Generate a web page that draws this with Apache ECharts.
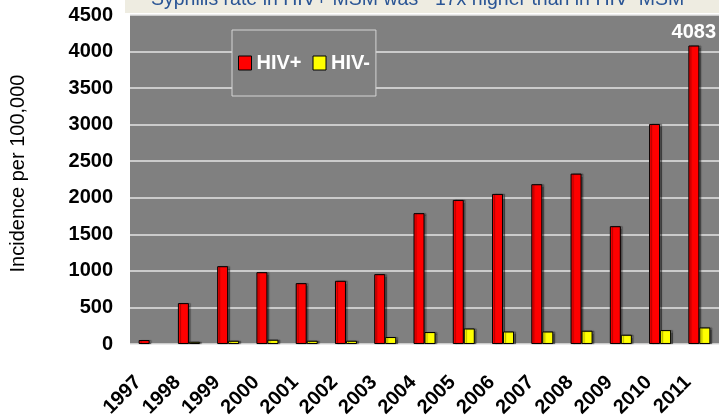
<!DOCTYPE html>
<html>
<head>
<meta charset="utf-8">
<script src="https://cdn.jsdelivr.net/npm/echarts@6/dist/echarts.min.js"></script>
<style>
  html, body { margin: 0; padding: 0; background: #fff; }
  #chart { width: 719px; height: 420px; }
</style>
</head>
<body>
<div id="chart"></div>
<script>
// values
const years = ['1997', '1998', '1999', '2000', '2001', '2002', '2003', '2004',
  '2005', '2006', '2007', '2008', '2009', '2010', '2011']
const hivPos = [55, 560, 1065, 983, 833, 865, 956, 1790, 1971, 2053, 2186, 2331, 1612, 3010, 4083]
const hivNeg = [null, 31, 45, 59, 45, 45, 96, 164, 213, 172, 172, 182, 127, 191, 227]
const yTicks = [0, 500, 1000, 1500, 2000, 2500, 3000, 3500, 4000, 4500]

const chart = echarts.init(document.getElementById('chart'))

const FONT = 'Liberation Sans, Arial, sans-serif'

const barStyle = {
  borderColor: '#000',
  borderWidth: 1,
  shadowColor: 'rgba(0, 0, 0, 0.35)',
  shadowBlur: 1,
  shadowOffsetX: 2,
  shadowOffsetY: 0
}

chart.setOption({
  animation: false,
  backgroundColor: '#fff',
  title: {
    text: 'Syphilis rate in HIV+ MSM was ~17x higher than in HIV- MSM',
    left: 146,
    top: -15,
    textStyle: {
      color: '#2A5595',
      fontFamily: FONT,
      fontSize: 19.5,
      fontWeight: 'normal'
    }
  },
  graphic: [
    {
      type: 'rect',
      z: -1,
      shape: { x: 125, y: 0, width: 594, height: 13 },
      style: { fill: '#EEECE1' }
    }
  ],
  legend: {
    left: 232,
    top: 30,
    padding: [23, 6, 23, 6],
    icon: 'rect',
    itemWidth: 13,
    itemHeight: 14,
    itemGap: 11,
    backgroundColor: '#808080',
    borderColor: '#D4D4D4',
    borderWidth: 1,
    textStyle: {
      color: '#fff',
      fontFamily: FONT,
      fontSize: 20,
      fontWeight: 'bold'
    },
    data: [
      { name: 'HIV+', itemStyle: { color: '#FF0000', borderColor: '#000', borderWidth: 1 } },
      { name: 'HIV-', itemStyle: { color: '#FFFF00', borderColor: '#000', borderWidth: 1 } }
    ]
  },
  grid: {
    left: 130,
    right: 0,
    top: 15,
    bottom: 75,
    show: true,
    backgroundColor: '#808080',
    borderWidth: 0
  },
  xAxis: {
    type: 'category',
    data: years,
    axisLine: { show: false },
    axisTick: { show: false },
    axisLabel: {
      interval: 0,
      rotate: 45,
      margin: 24,
      padding: [0, 16, 0, 0],
      color: '#000',
      fontFamily: FONT,
      fontSize: 20,
      fontWeight: 'bold'
    }
  },
  yAxis: {
    type: 'value',
    min: 0,
    max: 4500,
    interval: 500,
    name: 'Incidence per 100,000',
    nameLocation: 'middle',
    nameGap: 102,
    nameTextStyle: {
      color: '#000',
      fontFamily: FONT,
      fontSize: 20,
      padding: [0, 0, 0, 12]
    },
    axisLine: { show: false },
    axisTick: { show: false },
    splitLine: { lineStyle: { color: '#E4E4E4', width: 1.5 } },
    axisLabel: {
      margin: 17,
      color: '#000',
      fontFamily: FONT,
      fontSize: 20,
      fontWeight: 'bold',
      formatter: (v) => (yTicks.includes(v) ? String(v) : '')
    }
  },
  series: [
    {
      name: 'HIV+',
      type: 'bar',
      data: hivPos.map((v, i) => ({
        value: v,
        label: { show: i === hivPos.length - 1 }
      })),
      barWidth: 11,
      barGap: '0%',
      itemStyle: Object.assign({ color: '#FF0000' }, barStyle),
      label: {
        position: 'top',
        distance: 3,
        color: '#fff',
        fontFamily: FONT,
        fontSize: 20,
        fontWeight: 'bold'
      }
    },
    {
      name: 'HIV-',
      type: 'bar',
      data: hivNeg,
      barWidth: 11,
      itemStyle: Object.assign({ color: '#FFFF00' }, barStyle)
    }
  ]
})
</script>
</body>
</html>
